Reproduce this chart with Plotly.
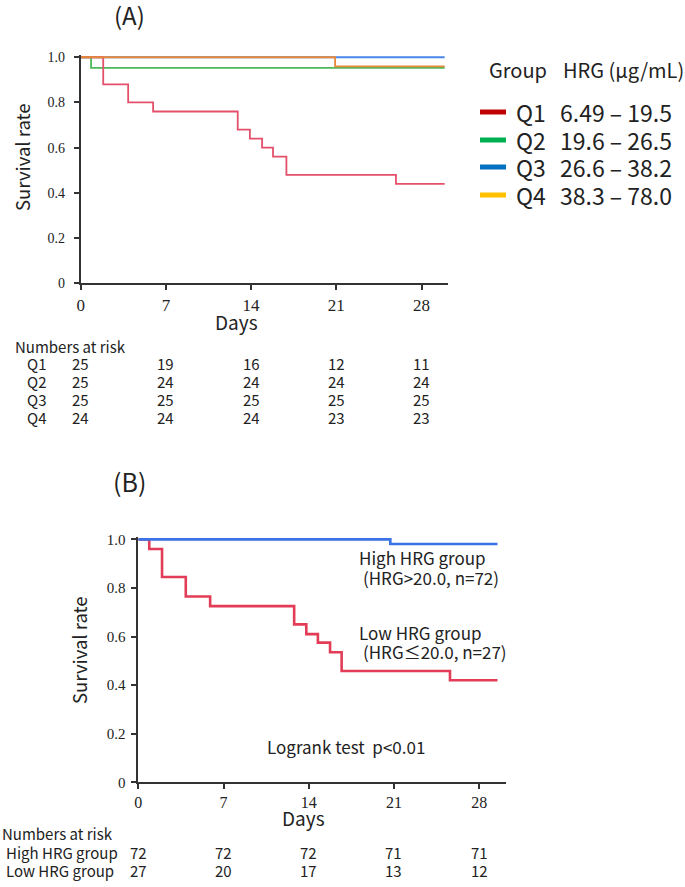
import plotly.graph_objects as go

W, H = 685, 887
SANS = "Noto Sans CJK JP"
SERIF = "Liberation Serif"

# ---------------- Data ----------------
# Panel A: Kaplan-Meier by HRG quartile
q1_days = [0, 1.85, 3.9, 5.95, 12.9, 13.9, 14.9, 15.8, 16.9, 25.9, 29.9]
q1_surv = [1.0, 0.88, 0.80, 0.76, 0.68, 0.64, 0.60, 0.56, 0.48, 0.44, 0.44]
q2_days = [0, 0.85, 29.9]
q2_surv = [1.0, 0.953, 0.953]
q3_days = [0, 29.9]
q3_surv = [1.0, 1.0]
q4_days = [0, 20.9, 29.9]
q4_surv = [1.0, 0.96, 0.96]

quartile_names = ["Q1", "Q2", "Q3", "Q4"]
quartile_ranges = ["6.49 – 19.5", "19.6 – 26.5", "26.6 – 38.2", "38.3 – 78.0"]

risk_days = [0, 7, 14, 21, 28]
risk_a = {
    "Q1": [25, 19, 16, 12, 11],
    "Q2": [25, 24, 24, 24, 24],
    "Q3": [25, 25, 25, 25, 25],
    "Q4": [24, 24, 24, 23, 23],
}

# Panel B: high vs low HRG
high_days = [0, 20.7, 29.5]
high_surv = [1.0, 0.981, 0.981]
low_days = [0, 0.9, 1.95, 3.9, 5.9, 12.8, 13.8, 14.75, 15.75, 16.7, 25.6, 29.5]
low_surv = [1.0, 0.96, 0.845, 0.765, 0.725, 0.65, 0.61, 0.575, 0.535, 0.458, 0.42, 0.42]

risk_b = {
    "High HRG group": [72, 72, 72, 71, 71],
    "Low HRG group": [27, 20, 17, 13, 12],
}

ytick_vals = [0, 0.2, 0.4, 0.6, 0.8, 1.0]
ytick_text = ["0", "0.2", "0.4", "0.6", "0.8", "1.0"]
xtick_vals = [0, 7, 14, 21, 28]

# ---------------- Helpers ----------------
def px(x):
    return x / W

def py(y):
    return 1 - y / H

line_cols_a = {"Q1": "#E4506A", "Q2": "#4DB85A", "Q3": "#4A86E8", "Q4": "#E8883A"}
legend_cols = {"Q1": "#C00000", "Q2": "#00B050", "Q3": "#0070C0", "Q4": "#FFC000"}

fig = go.Figure()

series_a = {
    "Q3": (q3_days, q3_surv),
    "Q2": (q2_days, q2_surv),
    "Q1": (q1_days, q1_surv),
    "Q4": (q4_days, q4_surv),
}
for name, (d, s) in series_a.items():
    fig.add_trace(go.Scatter(x=d, y=s, mode="lines", line=dict(shape="hv", color=line_cols_a[name], width=1.8),
                             xaxis="x", yaxis="y", showlegend=False, hoverinfo="skip"))

fig.add_trace(go.Scatter(x=low_days, y=low_surv, mode="lines", line=dict(shape="hv", color="#E23C56", width=2.6),
                         xaxis="x2", yaxis="y2", showlegend=False, hoverinfo="skip"))
fig.add_trace(go.Scatter(x=high_days, y=high_surv, mode="lines", line=dict(shape="hv", color="#3C72E8", width=2.6),
                         xaxis="x2", yaxis="y2", showlegend=False, hoverinfo="skip"))

axis_common = dict(showgrid=False, zeroline=False, showline=True, linecolor="#333333", linewidth=1.8,
                   ticks="outside", ticklen=5, tickwidth=1.5, tickcolor="#333333", mirror=False,
                   automargin=False)

fig.update_layout(
    width=W, height=H, margin=dict(l=0, r=0, t=0, b=0, pad=0, autoexpand=False),
    paper_bgcolor="white", plot_bgcolor="white", showlegend=False,
    xaxis=dict(domain=[px(80.7), px(448.3)], range=[0, 30.2], tickvals=xtick_vals,
               tickfont=dict(family=SERIF, size=17, color="#222"), anchor="y", **axis_common),
    yaxis=dict(domain=[py(283.3), py(55.0)], range=[0, 1.01], tickvals=ytick_vals, ticktext=ytick_text,
               ticklabelstandoff=6,
               tickfont=dict(family=SERIF, size=14, color="#222"), anchor="x", **axis_common),
    xaxis2=dict(domain=[px(138.3), px(506)], range=[0, 30.2], tickvals=xtick_vals,
                tickfont=dict(family=SERIF, size=16, color="#222"), anchor="y2", **axis_common),
    yaxis2=dict(domain=[py(782.3), py(536.9)], range=[0, 1.01], tickvals=ytick_vals, ticktext=ytick_text,
                ticklabelstandoff=3,
                tickfont=dict(family=SERIF, size=15, color="#222"), anchor="x2", **axis_common),
)

ann = []

def text(x, y, s, size, xanchor="left", angle=0, xref="paper", family=SANS, color="#222"):
    ann.append(dict(x=x if xref != "paper" else px(x), y=py(y), xref=xref, yref="paper", text=s,
                    showarrow=False, xanchor=xanchor, yanchor="middle", textangle=angle,
                    font=dict(family=family, size=size, color=color)))

# Panel labels
text(129, 15, "(A)", 24, xanchor="center")
text(129, 481, "(B)", 25, xanchor="center")

# Axis titles
text(22, 157, "Survival rate", 18.5, xanchor="center", angle=-90)
text(236, 322, "Days", 19, xanchor="center")
text(79, 650, "Survival rate", 18.5, xanchor="center", angle=-90)
text(303, 817, "Days", 19, xanchor="center")

# Legend for panel A
text(487, 69, "Group", 20)
text(561, 69, "HRG (µg/mL)", 20)
leg_y = [112, 140, 167, 195]
shapes = []
for name, rng, yy in zip(quartile_names, quartile_ranges, leg_y):
    shapes.append(dict(type="line", xref="paper", yref="paper", x0=px(480), x1=px(506), y0=py(yy), y1=py(yy),
                       line=dict(color=legend_cols[name], width=5)))
    text(514, yy, name, 23)
    text(558, yy, rng, 23)

# Risk table A
text(13, 346, "Numbers at risk", 15)
row_y_a = [363.3, 381.7, 400, 417.7]
for (name, vals), yy in zip(risk_a.items(), row_y_a):
    text(25, yy, name, 15)
    for d, v in zip(risk_days, vals):
        text(d, yy, str(v), 15, xanchor="center", xref="x")

# Panel B annotations
text(357, 557, "High HRG group", 17)
text(361, 577, "(HRG>20.0, n=72)", 17)
text(357, 632, "Low HRG group", 17)
text(361, 651, "(HRG≤20.0, n=27)", 17)
text(265, 746, "Logrank test\u00a0\u00a0p<0.01", 17)

# Risk table B
text(0, 833, "Numbers at risk", 15)
row_y_b = [852, 870]
for (name, vals), yy in zip(risk_b.items(), row_y_b):
    text(4, yy, name, 15)
    for d, v in zip(risk_days, vals):
        text(d, yy, str(v), 15, xanchor="center", xref="x2")

fig.update_layout(annotations=ann, shapes=shapes)
fig.write_html("out.html", config={"displayModeBar": False},
               post_script="document.body.style.margin='0px';")
